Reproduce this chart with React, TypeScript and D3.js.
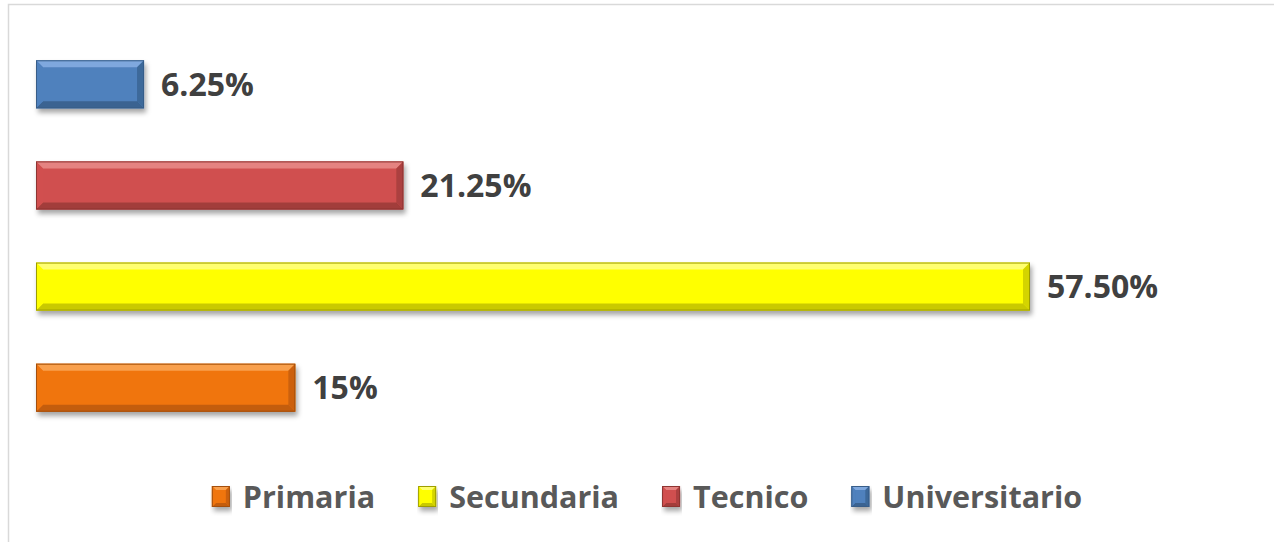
import React, { useEffect, useRef } from "react";
import * as d3 from "d3";

const categories = ["Universitario", "Tecnico", "Secundaria", "Primaria"];
const values = [6.25, 21.25, 57.5, 15];
const valueLabels = ["6.25%", "21.25%", "57.50%", "15%"];
const legendOrder = ["Primaria", "Secundaria", "Tecnico", "Universitario"];
const colors: Record<string, { base: string; light: string; dark: string; edge: string }> = {
  Universitario: { base: "#4F81BD", light: "#7FA8DE", dark: "#3A6391", edge: "#375D88" },
  Tecnico: { base: "#D0504F", light: "#E58381", dark: "#A23D3B", edge: "#8E3533" },
  Secundaria: { base: "#FFFF00", light: "#FFFF70", dark: "#C9C900", edge: "#9E9E00" },
  Primaria: { base: "#F07510", light: "#F9A04E", dark: "#C35D0A", edge: "#A44F08" },
};

const W = 1274;
const H = 542;
const FONT = "'Open Sans', Calibri, sans-serif";

export default function App() {
  const ref = useRef<SVGSVGElement>(null);

  useEffect(() => {
    const svg = d3.select(ref.current);
    svg.selectAll("*").remove();

    const defs = svg.append("defs");
    const f = defs.append("filter").attr("id", "shadow").attr("x", "-5%").attr("y", "-20%").attr("width", "115%").attr("height", "160%");
    f.append("feDropShadow").attr("dx", 2).attr("dy", 4).attr("stdDeviation", 2.5).attr("flood-color", "#000").attr("flood-opacity", 0.35);

    // chart border
    svg.append("rect").attr("x", 8.5).attr("y", 4.5).attr("width", W + 20).attr("height", H + 20)
      .attr("fill", "#fff").attr("stroke", "#d9d9d9").attr("stroke-width", 1.5);

    const x = d3.scaleLinear().domain([0, 57.5]).range([36, 1030]);
    const y = d3.scaleBand().domain(categories).range([34, 438]).paddingInner(0.525).paddingOuter(0.26);

    const bevel = (g: any, x0: number, y0: number, w: number, h: number, c: any, b: number) => {
      const grp = g.append("g").attr("filter", "url(#shadow)");
      grp.append("rect").attr("x", x0).attr("y", y0).attr("width", w).attr("height", h).attr("fill", c.base);
      const bb = Math.min(b, w / 2, h / 2);
      grp.append("path").attr("d", `M${x0},${y0}L${x0 + w},${y0}L${x0 + w - bb},${y0 + bb}L${x0 + bb},${y0 + bb}Z`).attr("fill", c.light);
      grp.append("path").attr("d", `M${x0},${y0 + h}L${x0 + w},${y0 + h}L${x0 + w - bb},${y0 + h - bb}L${x0 + bb},${y0 + h - bb}Z`).attr("fill", c.dark);
      grp.append("path").attr("d", `M${x0},${y0}L${x0 + bb},${y0 + bb}L${x0 + bb},${y0 + h - bb}L${x0},${y0 + h}Z`).attr("fill", c.base).attr("opacity", 0.9);
      grp.append("path").attr("d", `M${x0 + w},${y0}L${x0 + w - bb},${y0 + bb}L${x0 + w - bb},${y0 + h - bb}L${x0 + w},${y0 + h}Z`).attr("fill", c.dark).attr("opacity", 0.8);
      grp.append("rect").attr("x", x0 + 0.5).attr("y", y0 + 0.5).attr("width", w - 1).attr("height", h - 1)
        .attr("fill", "none").attr("stroke", c.edge).attr("stroke-width", 1);
    };

    const bars = svg.append("g");
    categories.forEach((cat, i) => {
      const y0 = y(cat)!;
      const w = x(values[i]) - x(0);
      bevel(bars, x(0), y0, w, y.bandwidth(), colors[cat], 7);
      bars.append("text").attr("x", x(values[i]) + 17).attr("y", y0 + y.bandwidth() / 2)
        .attr("dy", "0.36em").attr("font-family", FONT).attr("font-weight", 700).attr("font-size", 32)
        .attr("fill", "#404040").text(valueLabels[i]);
    });

    // legend
    const lg = svg.append("g");
    const items: { g: any; w: number }[] = [];
    legendOrder.forEach((cat) => {
      const g = lg.append("g");
      bevel(g, 0, -11, 18, 21, colors[cat], 4);
      const t = g.append("text").attr("x", 31).attr("y", 0).attr("dy", "0.36em").attr("font-family", FONT)
        .attr("font-weight", 700).attr("font-size", 30.5).attr("fill", "#595959").text(cat);
      const tw = (t.node() as SVGTextElement).getComputedTextLength();
      items.push({ g, w: 31 + tw });
    });
    const gap = 43;
    const total = d3.sum(items, (d) => d.w) + gap * (items.length - 1);
    let cx = 647 - total / 2;
    items.forEach((it) => {
      it.g.attr("transform", `translate(${cx},497)`);
      cx += it.w + gap;
    });
  }, []);

  return (
    <svg ref={ref} width={W} height={H} style={{ position: "absolute", left: 0, top: 0, display: "block", background: "#fff" }} />
  );
}
